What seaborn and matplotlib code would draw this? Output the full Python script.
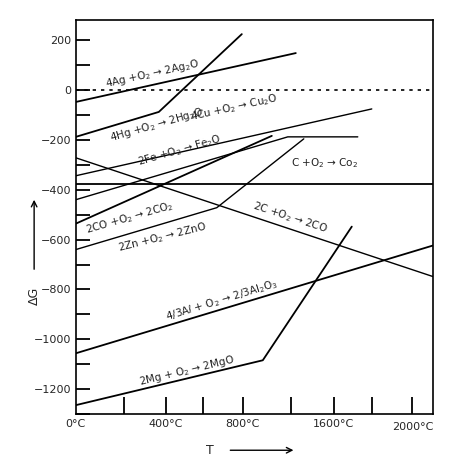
import matplotlib
matplotlib.use('Agg')
import matplotlib.pyplot as plt
import seaborn as sns
import pandas as pd

sns.set_style('white')
plt.rcParams['font.family'] = ['DejaVu Sans']

# x in plot units (non-linear temperature scale of the original), y = dG
ag_x = [0, 220];          ag_y = [-48, 148]
hg_x = [0, 83, 166];      hg_y = [-188, -88, 224]
cu_x = [0, 296];          cu_y = [-344, -76]
fe_x = [0, 212, 282];     fe_y = [-440, -188, -188]
co_x = [0, 196];          co_y = [-536, -184]
zn_x = [0, 141, 228];     zn_y = [-640, -472, -196]
c2co_x = [0, 357];        c2co_y = [-272, -748]
cco2_x = [0, 357];        cco2_y = [-376, -376]
al_x = [0, 357];          al_y = [-1056, -624]
mg_x = [0, 187, 276];     mg_y = [-1264, -1084, -548]

series = {'Ag': (ag_x, ag_y), 'Hg': (hg_x, hg_y), 'Cu': (cu_x, cu_y),
          'Fe': (fe_x, fe_y), 'CO': (co_x, co_y), 'Zn': (zn_x, zn_y),
          'C2CO': (c2co_x, c2co_y), 'CCO2': (cco2_x, cco2_y),
          'Al': (al_x, al_y), 'Mg': (mg_x, mg_y)}
widths = {'Ag': 1.3, 'Hg': 1.3, 'Cu': 1.0, 'Fe': 1.0, 'CO': 1.3, 'Zn': 1.0,
          'C2CO': 1.0, 'CCO2': 1.3, 'Al': 1.3, 'Mg': 1.3}

labels = [
    ('4Ag +O$_2$ → 2Ag$_2$O', 76, 66, 12.5),
    ('4Hg +O$_2$ → 2Hg$_2$O', 81, -138, 16),
    ('4Cu +O$_2$ → Cu$_2$O', 158, -70, 12.5),
    ('2Fe +O$_2$ → Fe$_2$O', 104, -243, 16),
    ('C +O$_2$ → Co$_2$', 249, -292, 0),
    ('2CO +O$_2$ → 2CO$_2$', 54, -515, 16),
    ('2Zn +O$_2$ → 2ZnO', 86, -590, 14),
    ('2C +O$_2$ → 2CO', 214, -512, -18),
    ('4/3A$l$ + O$_2$ → 2/3Al$_2$O$_3$', 146, -843, 17),
    ('2Mg + O$_2$ → 2MgO', 111, -1125, 13.5),
]

tick_x = [48, 90, 127, 167, 215, 258, 296, 336]
tlabel_x = [0, 90, 167, 258, 337]
tlabels = ['0°C', '400°C', '800°C', '1600°C', '2000°C']

fig = plt.figure(figsize=(4.74, 4.69), dpi=100)
ax = fig.add_axes([0.160, 0.117, 0.753, 0.84])

for k, (xs, ys) in series.items():
    sns.lineplot(x=xs, y=ys, ax=ax, color='black', lw=widths[k], sort=False)
ax.axhline(0, color='black', lw=1.2, ls=(0, (2, 3)))

for t, x, y, r in labels:
    ax.text(x, y, t, fontsize=7.5, rotation=r, ha='center', va='center',
            rotation_mode='anchor', color='#222222')

ax.set_xlim(0, 357)
ax.set_ylim(-1296, 280)
ax.set_yticks(range(-1200, 201, 200))
ax.set_yticks(range(-1300, 201, 100), minor=True)
ax.set_yticklabels([str(v).replace('-', '−') for v in range(-1200, 201, 200)],
                   fontsize=8)
ax.tick_params(axis='y', which='both', direction='in', length=10, width=1.3,
               left=True, color='black')
ax.set_xticks(tick_x)
ax.set_xticklabels([])
ax.tick_params(axis='x', direction='in', length=12, width=1.3,
               bottom=True, color='black')
for x, t in zip(tlabel_x, tlabels):
    ax.text(x, -1318 - (12 if t == '2000°C' else 0), t, fontsize=8,
            ha='center', va='top')
for s in ax.spines.values():
    s.set_linewidth(1.2)
    s.set_color('black')

fig.text(0.443, 0.04, 'T', fontsize=9, ha='center', va='center')
ax.annotate('', xy=(0.625, 0.04), xytext=(0.48, 0.04),
            xycoords='figure fraction', textcoords='figure fraction',
            annotation_clip=False,
            arrowprops=dict(arrowstyle='->', lw=1, color='black'))
fig.text(0.072, 0.37, 'ΔG', fontsize=9, rotation=90, ha='center', va='center')
ax.annotate('', xy=(0.072, 0.58), xytext=(0.072, 0.42),
            xycoords='figure fraction', textcoords='figure fraction',
            annotation_clip=False,
            arrowprops=dict(arrowstyle='->', lw=1, color='black'))

fig.savefig('out.png', dpi=100)
